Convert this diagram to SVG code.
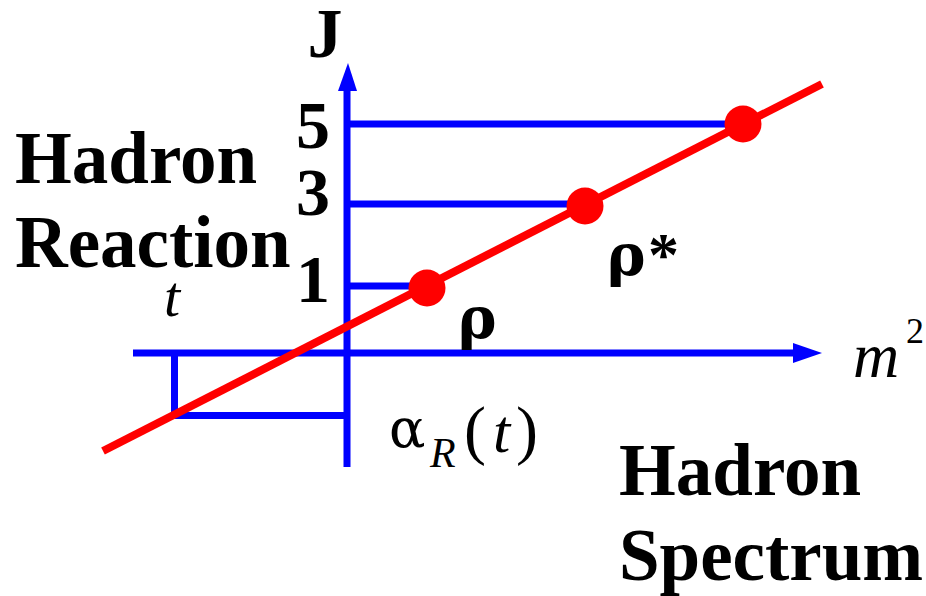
<svg xmlns="http://www.w3.org/2000/svg" width="926" height="596" viewBox="0 0 926 596">
<style>
.ax{stroke:#0000FF;stroke-width:7;fill:none}
.ah{fill:#0000FF}
.rl{stroke:#FF0000;stroke-width:8;fill:none}
.dot{fill:#FF0000}
.b{font-family:"Liberation Serif","Times New Roman",serif;font-weight:bold;fill:#000}
.r{font-family:"Liberation Serif","Times New Roman",serif;fill:#000}
.i{font-family:"Liberation Serif","Times New Roman",serif;font-style:italic;fill:#000}
.g{font-family:"DejaVu Serif",serif;fill:#000}
</style>
<rect width="926" height="596" fill="#FFFFFF"/>
<g id="connectors">
<line class="ax" x1="347" y1="467" x2="347" y2="88"/>
<polygon class="ah" points="348,63 338,91 357,91"/>
<line class="ax" x1="133" y1="353" x2="796" y2="353"/>
<polygon class="ah" points="822,353 793,343 793,363"/>
<line class="ax" x1="347" y1="124" x2="743" y2="124"/>
<line class="ax" x1="347" y1="204" x2="585" y2="204"/>
<line class="ax" x1="347" y1="286" x2="427" y2="286"/>
<line class="ax" x1="174.5" y1="353" x2="174.5" y2="415.5"/>
<line class="ax" x1="174.5" y1="415.5" x2="347" y2="415.5"/>
<line class="rl" x1="103" y1="451" x2="822" y2="84"/>
</g>
<g id="node-rho"><circle class="dot" cx="427" cy="288" r="18.5"/></g>
<g id="node-rhostar"><circle class="dot" cx="585" cy="206" r="18.5"/></g>
<g id="node-j5"><circle class="dot" cx="743" cy="124" r="18.5"/></g>
<g id="labels">
<text class="b" x="325" y="57" font-size="70" text-anchor="middle">J</text>
<text class="b" x="330" y="148" font-size="68" text-anchor="end">5</text>
<text class="b" x="330" y="215" font-size="68" text-anchor="end">3</text>
<text class="b" x="330" y="302" font-size="68" text-anchor="end">1</text>
<text class="b" x="15" y="183" font-size="73">Hadron</text>
<text class="b" x="15" y="267" font-size="73">Reaction</text>
<text class="i" x="164" y="316" font-size="58">t</text>
<text class="g" x="458" y="338" font-size="58" font-weight="bold">ρ</text>
<text class="g" x="607" y="275" font-size="58" font-weight="bold">ρ</text>
<text class="b" x="648" y="275" font-size="62">*</text>
<text class="i" x="853" y="377" font-size="64">m</text>
<text class="r" x="906" y="343" font-size="36">2</text>
<text class="g" x="389" y="447" font-size="54">α</text>
<text class="i" x="430" y="467" font-size="42">R</text>
<text class="r" x="464" y="452" font-size="66">(</text>
<text class="i" x="493" y="452" font-size="62">t</text>
<text class="r" x="516" y="452" font-size="66">)</text>
<text class="b" x="619" y="495" font-size="73">Hadron</text>
<text class="b" x="619" y="580" font-size="73">Spectrum</text>
</g>
</svg>
